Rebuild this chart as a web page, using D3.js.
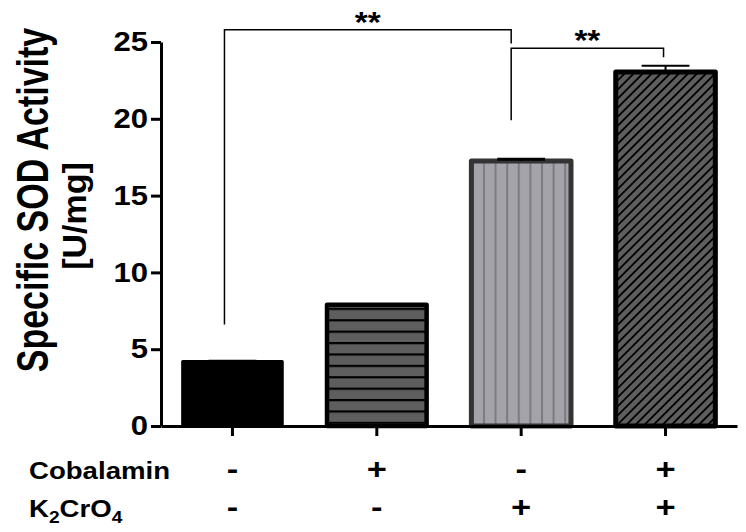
<!DOCTYPE html>
<html lang="en">
<head>
<meta charset="UTF-8">
<title>Specific SOD Activity</title>
<script src="https://d3js.org/d3.v7.min.js"></script>
<style>
    body { margin: 0; background: #fff; }
    svg { display: block; font-family: "Liberation Sans", Arial, sans-serif; font-weight: bold; }
</style>
</head>
<body>
<div id="chart"></div>
<script>
    // data
    const groups = ["ctrl", "cob", "cr", "cobcr"];
    const means = [4.2, 7.9, 17.25, 23.05];
    const errors = [0.05, 0.05, 0.12, 0.4];
    const yTicks = [0, 5, 10, 15, 20, 25];
    const cobalaminSigns = ["-", "+", "-", "+"];
    const chromateSigns = ["-", "-", "+", "+"];
    // significance brackets: group indices, leg heights and top in data units
    const brackets = [
        { from: 0, to: 2, left: 6.6, top: 25.8, right: 24.9, label: "**" },
        { from: 2, to: 3, left: 19.9, top: 24.6, right: 24.0, label: "**" }
    ];

    const width = 746, height = 532;
    const stretch = 1.15; // the original figure is a bit wider than tall

    const svg = d3.select("#chart").append("svg")
        .attr("width", width)
        .attr("height", height);

    const x = d3.scaleBand()
        .domain(groups)
        .range([161, 737])
        .paddingInner(0.31)
        .paddingOuter(0.15);

    const y = d3.scaleLinear()
        .domain([0, 25])
        .range([426, 42]);

    // fill patterns
    const defs = svg.append("defs");

    const hp = defs.append("pattern").attr("id", "hlines")
        .attr("patternUnits", "userSpaceOnUse").attr("width", 10).attr("height", 11.4);
    hp.append("rect").attr("width", 10).attr("height", 11.4).attr("fill", "#5e5e5e");
    hp.append("rect").attr("width", 10).attr("height", 2.2).attr("fill", "#000");

    const vp = defs.append("pattern").attr("id", "vlines")
        .attr("patternUnits", "userSpaceOnUse").attr("width", 11.6).attr("height", 10)
        .attr("x", x("cr"));
    vp.append("rect").attr("width", 11.6).attr("height", 10).attr("fill", "#a3a3a9");
    vp.append("rect").attr("width", 2).attr("height", 10).attr("fill", "#7b7b80");

    const dp = defs.append("pattern").attr("id", "diag")
        .attr("patternUnits", "userSpaceOnUse").attr("width", 6.4).attr("height", 10)
        .attr("patternTransform", "rotate(45)");
    dp.append("rect").attr("width", 6.4).attr("height", 10).attr("fill", "#5e5e5e");
    dp.append("rect").attr("width", 1.8).attr("height", 10).attr("fill", "#000");

    const fills = ["#000", "url(#hlines)", "url(#vlines)", "url(#diag)"];
    const strokes = ["#000", "#000", "#333", "#000"];
    const strokeW = [3, 4.5, 5, 5];

    // bars
    svg.selectAll(".bar")
        .data(groups)
        .join("rect")
        .attr("class", "bar")
        .attr("x", d => x(d))
        .attr("y", (d, i) => y(means[i]))
        .attr("width", x.bandwidth())
        .attr("height", (d, i) => y(0) - y(means[i]))
        .attr("fill", (d, i) => fills[i])
        .attr("stroke", (d, i) => strokes[i])
        .attr("stroke-width", (d, i) => strokeW[i])
        .attr("stroke-linejoin", "round");

    // error bars (upper only)
    const capW = x.bandwidth() * 0.48;
    groups.forEach((g, i) => {
        const cx = x(g) + x.bandwidth() / 2;
        svg.append("line")
            .attr("x1", cx).attr("x2", cx)
            .attr("y1", y(means[i])).attr("y2", y(means[i] + errors[i]))
            .attr("stroke", "#000").attr("stroke-width", 2);
        svg.append("line")
            .attr("x1", cx - capW / 2).attr("x2", cx + capW / 2)
            .attr("y1", y(means[i] + errors[i])).attr("y2", y(means[i] + errors[i]))
            .attr("stroke", "#000").attr("stroke-width", i === 2 ? 3 : 2);
    });

    // axes
    const yAxis = svg.append("g")
        .attr("transform", "translate(161,0)")
        .call(d3.axisLeft(y).tickValues(yTicks).tickSize(10).tickSizeOuter(0).tickPadding(3));
    yAxis.selectAll("path, line").attr("stroke", "#000").attr("stroke-width", 3);
    yAxis.selectAll("text")
        .attr("fill", "#000")
        .style("font-size", "27px")
        .style("font-weight", "bold")
        .style("font-family", "'Liberation Sans', Arial, sans-serif")
        .attr("transform", `scale(${stretch},1)`)
        .attr("x", -13 / stretch);

    const xAxis = svg.append("g")
        .attr("transform", `translate(0,${y(0)})`)
        .call(d3.axisBottom(x).tickSize(10).tickSizeOuter(0).tickFormat(""));
    xAxis.selectAll("path, line").attr("stroke", "#000").attr("stroke-width", 3);

    // significance brackets
    const legOffset = [-8, -10, -10, -2];
    brackets.forEach((b, k) => {
        const x1 = x(groups[b.from]) + x.bandwidth() / 2 + (k === 0 ? legOffset[0] : legOffset[2]);
        const x2 = x(groups[b.to]) + x.bandwidth() / 2 + (k === 0 ? legOffset[1] : legOffset[3]);
        svg.append("path")
            .attr("d", `M${x1},${y(b.left)}V${y(b.top)}H${x2}V${y(b.right)}`)
            .attr("fill", "none").attr("stroke", "#000").attr("stroke-width", 1.5);
        svg.append("text")
            .attr("transform", `translate(${(x1 + x2) / 2},${y(b.top) + 2}) scale(${stretch},1)`)
            .attr("text-anchor", "middle")
            .style("font-size", "29px")
            .text(b.label);
    });

    // y axis title
    const title = ["Specific SOD Activity", "[U/mg]"];
    const titleX = [48, 86];
    const titleY = [200, 216];
    const titleSize = [34, 34];
    const titleStretch = [1.3, 1.0];
    title.forEach((t, i) => {
        svg.append("text")
            .attr("transform", `translate(${titleX[i]},${titleY[i]}) scale(${titleStretch[i]},1) rotate(-90)`)
            .attr("text-anchor", "middle")
            .style("font-size", titleSize[i] + "px")
            .text(t);
    });

    // treatment rows under the axis
    const rowY = [479, 517];
    const labelStretch = 1.2;
    svg.append("text")
        .attr("transform", `translate(29,${rowY[0]}) scale(${labelStretch},1)`)
        .style("font-size", "23px")
        .text("Cobalamin");
    const k2 = svg.append("text")
        .attr("transform", `translate(29,${rowY[1]}) scale(${labelStretch},1)`)
        .style("font-size", "23px");
    k2.append("tspan").text("K");
    k2.append("tspan").attr("dy", 6).style("font-size", "16px").text("2");
    k2.append("tspan").attr("dy", -6).text("CrO");
    k2.append("tspan").attr("dy", 6).style("font-size", "16px").text("4");

    [cobalaminSigns, chromateSigns].forEach((signs, r) => {
        svg.selectAll(null)
            .data(signs)
            .join("text")
            .attr("transform", (d, i) =>
                `translate(${x(groups[i]) + x.bandwidth() / 2},${rowY[r]}) scale(${stretch},1)`)
            .attr("text-anchor", "middle")
            .style("font-size", "30px")
            .text(d => d);
    });
</script>
</body>
</html>
